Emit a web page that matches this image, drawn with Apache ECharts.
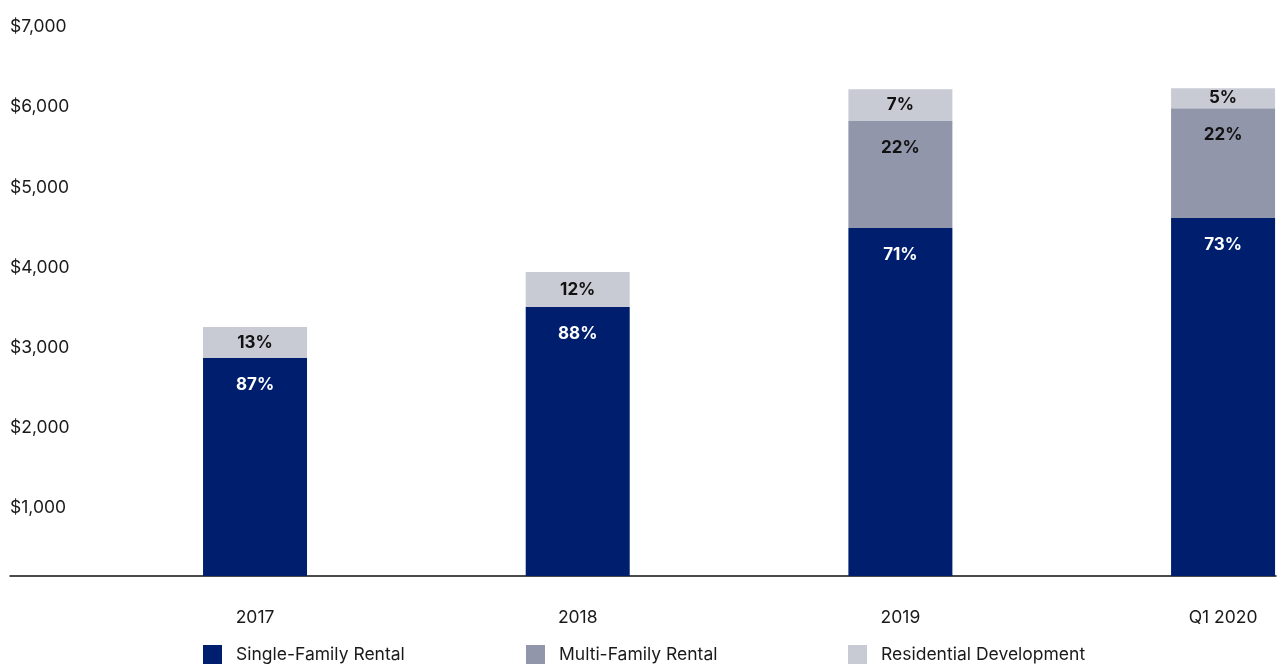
<!DOCTYPE html>
<html>
<head>
<meta charset="utf-8">
<script src="https://cdn.jsdelivr.net/npm/echarts@6/dist/echarts.min.js"></script>
<style>
html,body{margin:0;padding:0;background:#fff;}
#chart{width:1278px;height:666px;}
</style>
</head>
<body>
<div id="chart"></div>
<script>
var categories = ['2017', '2018', '2019', 'Q1 2020'];
var seriesNames = ['Single-Family Rental', 'Multi-Family Rental', 'Residential Development'];
var singleFamily = [2719, 3355, 4341, 4466];
var multiFamily = [null, null, 1335, 1372];
var residentialDev = [387, 437, 399, 249];
var pctSingleFamily = [87, 88, 71, 73];
var pctMultiFamily = [null, null, 22, 22];
var pctResidential = [13, 12, 7, 5];
var yTicks = [0, 1000, 2000, 3000, 4000, 5000, 6000, 7000];
var colors = ['#001e6e', '#9196ab', '#c9cbd4'];

var FONT = 'Inter';
var FS = 17.5;
var LFS = 17;
var chart = echarts.init(document.getElementById('chart'));

function pctLabel(arr) {
  return function (p) {
    var v = arr[p.dataIndex];
    return v == null ? '' : v + '%';
  };
}

var yMin = yTicks[0], yMax = yTicks[yTicks.length - 1];

var option = {
  animation: false,
  backgroundColor: '#fff',
  grid: [
    { left: 93.7, right: -106.4, top: 15, bottom: 90, outerBoundsMode: 'none', containLabel: false },
    { left: 10, right: 2, top: 15, bottom: 90, outerBoundsMode: 'none' }
  ],
  xAxis: [
    {
      type: 'category', gridIndex: 0, data: categories,
      axisLine: { show: false }, axisTick: { show: false },
      axisLabel: { margin: 33, color: '#1a1a1a', fontFamily: FONT, fontSize: FS }
    },
    {
      type: 'value', gridIndex: 1, min: 0, max: 1,
      axisLine: { show: true, lineStyle: { color: '#111', width: 1.5 } },
      axisTick: { show: false }, axisLabel: { show: false }, splitLine: { show: false }
    }
  ],
  yAxis: [
    { type: 'value', gridIndex: 0, min: yMin, max: yMax, show: false },
    {
      type: 'value', gridIndex: 1, min: yMin, max: yMax, interval: 1000,
      axisLine: { show: false }, axisTick: { show: false }, splitLine: { show: false },
      axisLabel: {
        inside: true, margin: 0, verticalAlign: 'top', align: 'left', padding: [3, 0, 0, 0],
        color: '#1a1a1a', fontFamily: FONT, fontSize: FS,
        formatter: function (v) { return v === 0 ? '' : '$' + v.toLocaleString('en-US'); }
      }
    }
  ],
  legend: seriesNames.map(function (n, i) {
    return {
      data: [n], left: [203, 526, 848][i], top: 645, padding: 0,
      itemWidth: 19, itemHeight: 19, icon: 'rect',
      textStyle: { color: '#1a1a1a', fontFamily: FONT, fontSize: FS, padding: [0, 0, 0, 9] }
    };
  }),
  series: [
    {
      name: seriesNames[0], type: 'bar', stack: 'a', data: singleFamily, barWidth: 104,
      itemStyle: { color: colors[0] },
      label: { show: true, position: 'insideTop', distance: 18, color: '#fff', fontWeight: 'bold',
        fontFamily: FONT, fontSize: LFS, formatter: pctLabel(pctSingleFamily) }
    },
    {
      name: seriesNames[1], type: 'bar', stack: 'a', data: multiFamily, barWidth: 104,
      itemStyle: { color: colors[1] },
      label: { show: true, position: 'insideTop', distance: 18, color: '#111', fontWeight: 'bold',
        fontFamily: FONT, fontSize: LFS, formatter: pctLabel(pctMultiFamily) }
    },
    {
      name: seriesNames[2], type: 'bar', stack: 'a', data: residentialDev, barWidth: 104,
      itemStyle: { color: colors[2] },
      label: { show: true, position: 'inside', color: '#111', fontWeight: 'bold',
        fontFamily: FONT, fontSize: LFS, formatter: pctLabel(pctResidential) }
    }
  ]
};
chart.setOption(option);
</script>
</body>
</html>
